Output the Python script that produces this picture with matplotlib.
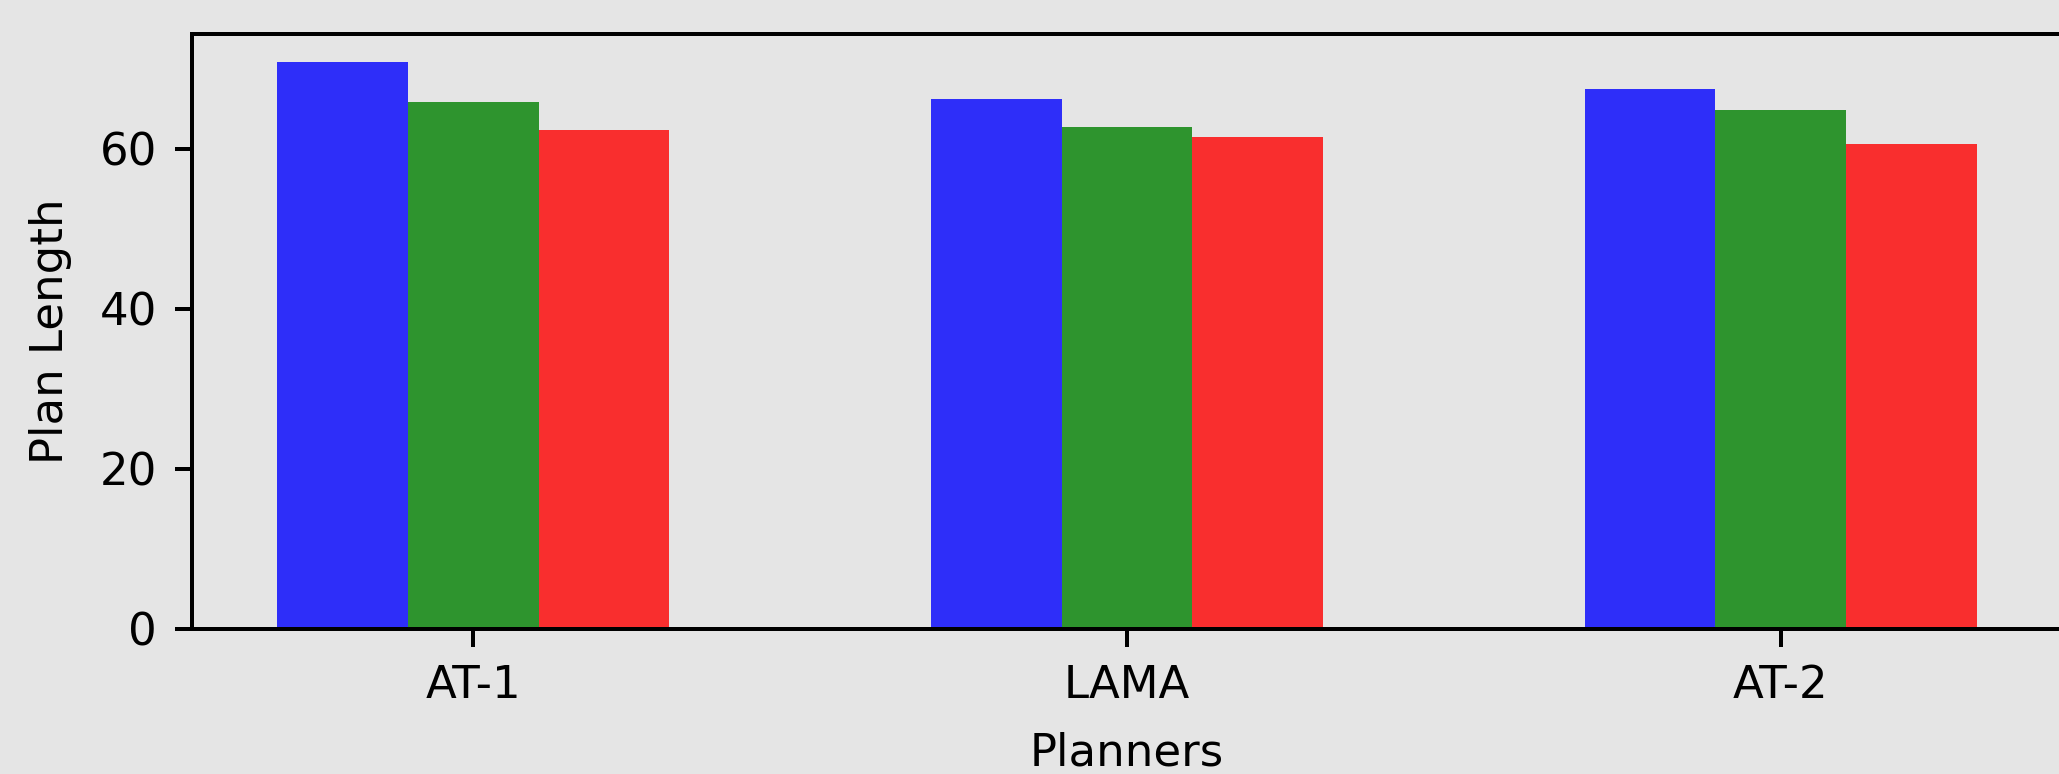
import numpy as np
import matplotlib
matplotlib.use("Agg")
import matplotlib.pyplot as plt

planners = ["AT-1", "LAMA", "AT-2"]
series_a = [70.8, 66.2, 67.5]   # blue
series_b = [65.8, 62.7, 64.9]   # green
series_c = [62.4, 61.5, 60.6]   # red
colors = ["blue", "green", "red"]

bg = "#e5e5e5"
dpi = 360
fig = plt.figure(figsize=(2059 / dpi, 774 / dpi), dpi=dpi, facecolor=bg)
plt.rcParams["font.size"] = 9

ax = fig.add_axes([192 / 2059, 145 / 774, 1870 / 2059, 595 / 774])
ax.set_facecolor(bg)

x = np.arange(len(planners))
width = 0.2
for i, (vals, c) in enumerate(zip([series_a, series_b, series_c], colors)):
    ax.bar(x + (i - 1) * width, vals, width, color=c, alpha=0.8)

ax.set_xticks(x)
ax.set_xticklabels(planners)
ax.set_yticks([0, 20, 40, 60])
ax.set_xlabel("Planners", labelpad=4.8)
ax.set_ylabel("Plan Length", labelpad=5.5)

fig.savefig("out.png", dpi=dpi, facecolor=bg)
